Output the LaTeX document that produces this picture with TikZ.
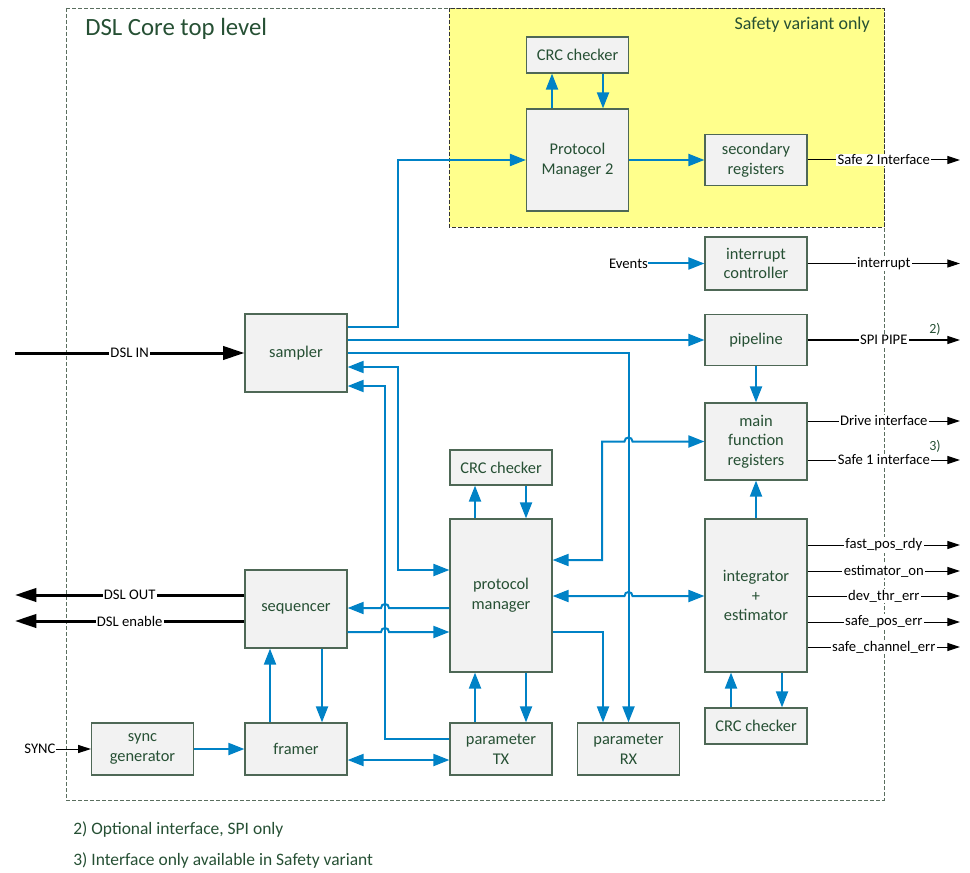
\documentclass[tikz,border=0pt]{standalone}
\usepackage{fontspec}
\setmainfont{Carlito}
\usetikzlibrary{arrows.meta,positioning}

\definecolor{boxtext}{RGB}{38,80,52}
\definecolor{boxline}{RGB}{78,104,86}
\definecolor{boxfill}{RGB}{242,242,242}
\definecolor{linkblue}{RGB}{0,130,198}
\definecolor{safeyellow}{RGB}{255,255,140}
\definecolor{framegray}{RGB}{90,110,95}

\tikzset{
  bluetip/.tip={Triangle[length=12pt,width=9pt]},
  sigtip/.tip={Triangle[length=9.5pt,width=6pt]},
  bigtip/.tip={Triangle[length=16pt,width=10pt]},
}

\begin{document}
\begin{tikzpicture}[x=0.75pt,y=-0.75pt,
  blk/.style={draw=boxline,line width=0.9pt,fill=boxfill,text=boxtext,
    minimum width=76.5pt,inner sep=0pt,align=center,
    font=\fontsize{12.3}{14.8}\selectfont},
  lnk/.style={draw=linkblue,line width=1.5pt,-bluetip},
  lnkboth/.style={draw=linkblue,line width=1.5pt,bluetip-bluetip},
  sig/.style={draw=black,line width=0.75pt,-sigtip},
  bigsig/.style={draw=black,line width=2.25pt,-bigtip},
  lbl/.style={fill=white,inner sep=1pt,font=\fontsize{11}{12}\selectfont},
  note/.style={text=boxtext,inner sep=0pt},
  frame/.style={draw=framegray,line width=0.6pt,dash pattern=on 3pt off 1.5pt}]

  \useasboundingbox (0,0) rectangle (970,873);

  % Frames
  \fill[safeyellow] (449,8) rectangle (884,227);
  \draw[frame] (66,8) rectangle (884,800);
  \draw[frame,draw=black!80] (449,8) rectangle (884,227);
  \node[note,anchor=west,font=\fontsize{18.6}{20}\selectfont] (title) at (85,29) {DSL Core top level};
  \node[note,anchor=east,font=\fontsize{13.5}{15}\selectfont] (safety) at (870,25) {Safety variant only};

  % Blocks
  \node[blk,minimum height=27pt] (crctop) at (577.5,55) {CRC checker};
  \node[blk,minimum height=76.5pt] (pmtwo) at (577.5,160) {Protocol\\Manager 2};
  \node[blk,minimum height=38.25pt] (secreg) at (756,160) {secondary\\registers};
  \node[blk,minimum height=39.75pt] (irq) at (756,263.5) {interrupt\\controller};
  \node[blk,minimum height=38.25pt] (pipe) at (756,340) {pipeline};
  \node[blk,minimum height=57.75pt] (mainreg) at (756,441.5) {main\\function\\registers};
  \node[blk,minimum height=114.75pt] (integ) at (756,595.5) {integrator\\+\\estimator};
  \node[blk,minimum height=27pt] (crcint) at (756,726) {CRC checker};
  \node[blk,minimum height=58.5pt] (sampler) at (296,353) {sampler};
  \node[blk,minimum height=58.5pt] (seq) at (296,609) {sequencer};
  \node[blk,minimum height=26.25pt] (crcpm) at (501,467.5) {CRC checker};
  \node[blk,minimum height=114.75pt] (pm) at (501,595.5) {protocol\\manager};
  \node[blk,minimum height=39pt] (ptx) at (501,749) {parameter\\TX};
  \node[blk,minimum height=39pt] (prx) at (628.5,749) {parameter\\RX};
  \node[blk,minimum height=39pt] (sync) at (142.5,749) {sync\\generator};
  \node[blk,minimum height=39pt] (framer) at (296,749) {framer};

  % Safety part
  \draw[lnk] (sampler.east |- 0,327) -- (398,327) |- (pmtwo.west);
  \draw[lnk] (pmtwo.north -| 552,0) -- (crctop.south -| 552,0);
  \draw[lnk] (crctop.south -| 603,0) -- (pmtwo.north -| 603,0);
  \draw[lnk] (pmtwo.east) -- (secreg.west);

  % Sampler links
  \draw[lnk] (sampler.east |- pipe.west) -- (pipe.west);
  \draw[lnk] (sampler.east) -| (prx.north);
  \draw[lnkboth] (sampler.east |- 0,367) -- (398,367) |- (pm.west |- 0,570);
  \draw[lnk] (ptx.west |- 0,739) -- (385,739) |- (sampler.east |- 0,386);

  % Sequencer and protocol manager, hopping over x=385
  \draw[lnk] (pm.west |- 0,608) -- (389,608) .. controls (389,602.7) and (381,602.7) .. (381,608) -- (seq.east |- 0,608);
  \draw[lnk] (seq.east |- 0,632) -- (381,632) .. controls (381,626.7) and (389,626.7) .. (389,632) -- (pm.west |- 0,632);

  % Protocol manager links
  \draw[lnk] (pm.north -| 475,0) -- (crcpm.south -| 475,0);
  \draw[lnk] (crcpm.south -| 526,0) -- (pm.north -| 526,0);
  \draw[lnkboth] (mainreg.west) -- (632.5,441.5) .. controls (632.5,436.2) and (624.5,436.2) .. (624.5,441.5) -- (602,441.5) |- (pm.east |- 0,560);
  \draw[lnkboth] (pm.east |- 0,596) -- (624.5,596) .. controls (624.5,590.7) and (632.5,590.7) .. (632.5,596) -- (integ.west |- 0,596);
  \draw[lnk] (pm.east |- 0,632) -| (prx.north -| 603,0);
  \draw[lnk] (ptx.north -| 475,0) -- (pm.south -| 475,0);
  \draw[lnk] (pm.south -| 526,0) -- (ptx.north -| 526,0);

  % Bottom row
  \draw[lnkboth] (framer.east |- 0,760) -- (ptx.west |- 0,760);
  \draw[lnk] (sync.east) -- (framer.west);
  \draw[lnk] (framer.north -| 270,0) -- (seq.south -| 270,0);
  \draw[lnk] (seq.south -| 322,0) -- (framer.north -| 322,0);

  % Right column
  \draw[lnk] (pipe) -- (mainreg);
  \draw[lnk] (integ) -- (mainreg);
  \draw[lnk] (crcint.north -| 731,0) -- (integ.south -| 731,0);
  \draw[lnk] (integ.south -| 782,0) -- (crcint.north -| 782,0);
  \node[inner sep=0pt,font=\fontsize{11}{12}\selectfont] (events) at (628.5,263.5) {Events};
  \draw[lnk] (events) -- (irq);

  % Interfaces left
  \coordinate (dslin) at (15,353);
  \coordinate (dslout) at (15,595);
  \coordinate (dslen) at (15,621);
  \draw[bigsig] (dslin) -- node[lbl]{DSL IN} (sampler.west);
  \draw[bigsig] (seq.west |- dslout) -- node[lbl]{DSL OUT} (dslout);
  \draw[bigsig] (seq.west |- dslen) -- node[lbl]{DSL enable} (dslen);
  \node[inner sep=0pt,font=\fontsize{11}{12}\selectfont] (synctxt) at (40,749) {SYNC};
  \draw[sig] (synctxt) -- (sync);

  % Interfaces right
  \foreach \src/\y/\txt [count=\i] in {secreg/160/Safe 2 Interface, irq/263.5/interrupt,
      pipe/340/SPI PIPE, mainreg/421/Drive interface, mainreg/460/Safe 1 interface,
      integ/545/fast\_pos\_rdy, integ/571/estimator\_on, integ/596/dev\_thr\_err,
      integ/622/safe\_pos\_err, integ/647/safe\_channel\_err}{
    \coordinate (out\i) at (960,\y);
    \draw[sig] (\src.east |- out\i) -- node[lbl]{\txt} (out\i);
  }
  \node[note,font=\fontsize{10.5}{12}\selectfont] (mark2) at (935,329) {2)};
  \node[note,font=\fontsize{10.5}{12}\selectfont] (mark3) at (935,446) {3)};

  % Footnotes
  \node[note,anchor=west,font=\fontsize{13.1}{14}\selectfont] (fn2) at (73,830) {2) Optional interface, SPI only};
  \node[note,anchor=west,font=\fontsize{13.1}{14}\selectfont] (fn3) at (73,861) {3) Interface only available in Safety variant};
\end{tikzpicture}
\end{document}
